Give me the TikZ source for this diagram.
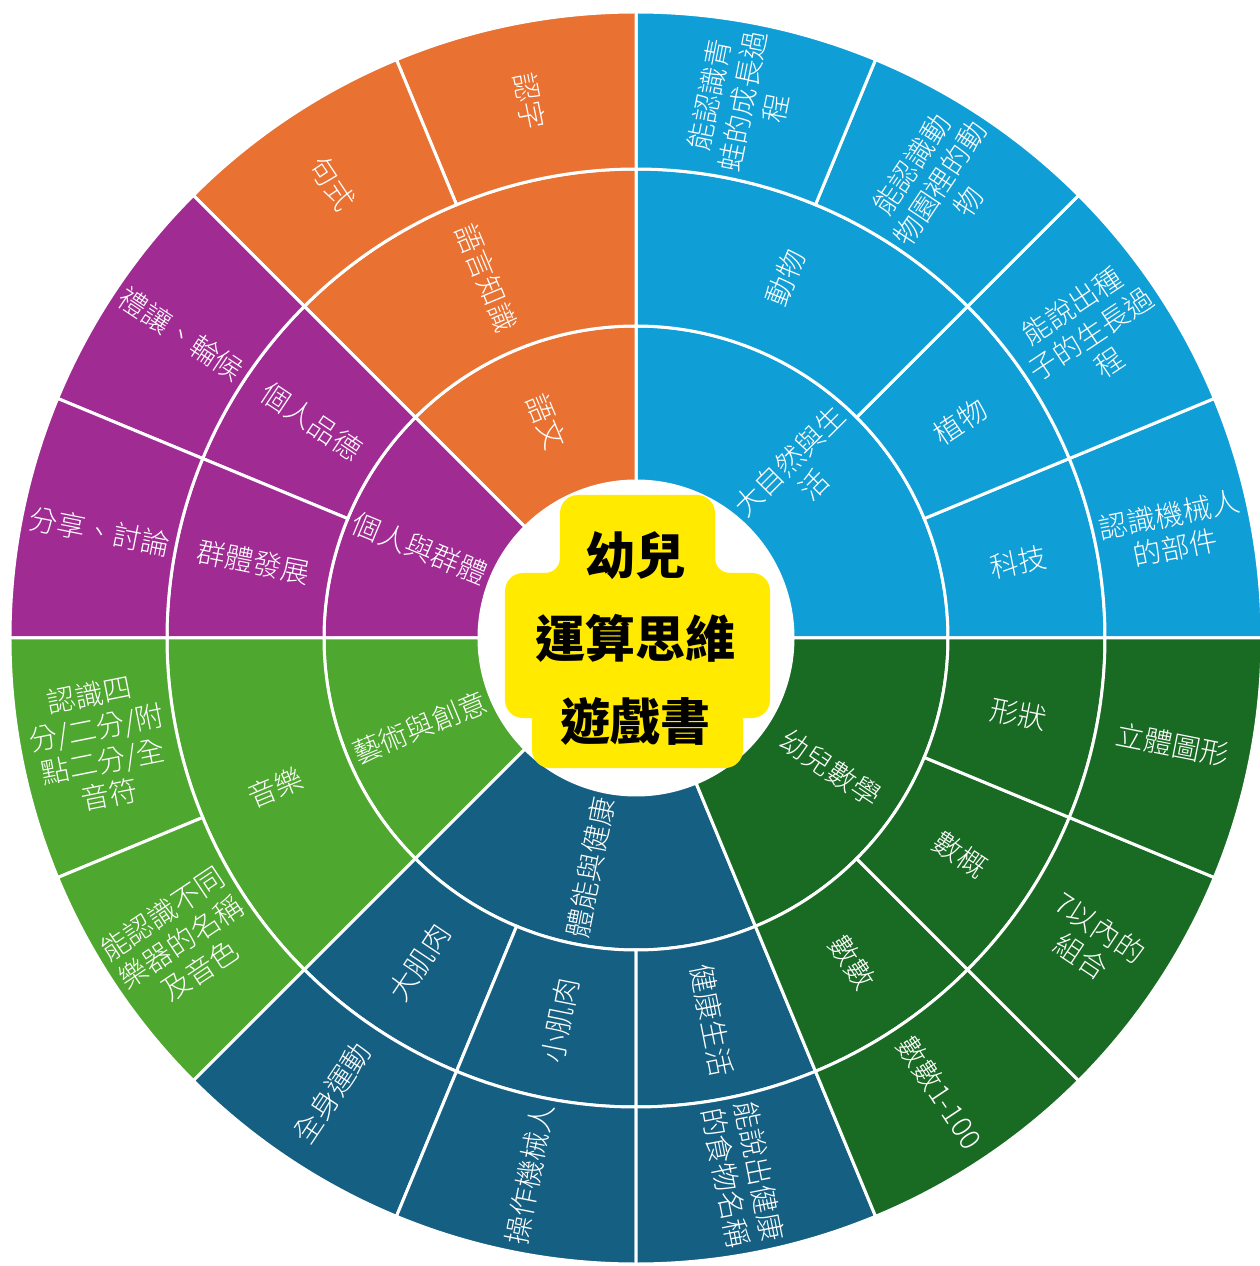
\documentclass[tikz,border=0pt]{standalone}
\usepackage{fontspec}
\newfontfamily\cjk{Noto Sans CJK TC}
\IfFontExistsTF{Noto Sans CJK TC Light}
  {\newfontfamily\cjklight{Noto Sans CJK TC Light}}
  {\newfontfamily\cjklight{Noto Sans CJK TC}}
\definecolor{cblue}{HTML}{0F9ED5}
\definecolor{corange}{HTML}{E97132}
\definecolor{cpurple}{HTML}{A02B93}
\definecolor{clgreen}{HTML}{4EA72E}
\definecolor{cdblue}{HTML}{156082}
\definecolor{cdgreen}{HTML}{196B24}
\definecolor{cyellow}{HTML}{FFEA00}
\tikzset{
  segfill/.style={fill=#1, draw=white, line width=3pt, line join=miter},
  lbl/.style={text=white, font=\cjklight\fontsize{28.5}{34}\selectfont, align=center, inner sep=0pt},
  ctitle/.style={text=black, font=\cjk\bfseries\fontsize{50}{83}\selectfont, align=center, inner sep=0pt},
}
\newcommand\sbsec[5]{%
  \draw[segfill=#5] (#1:#3pt) arc[start angle=#1, end angle=#2, radius=#3pt]
    -- (#2:#4pt) arc[start angle=#2, end angle=#1, radius=#4pt] -- cycle;}
\begin{document}
\begin{tikzpicture}[x=1pt,y=1pt]
\fill[white] (-636,-628) rectangle (623,638);
\useasboundingbox (-636,-628) rectangle (623,638);
% ring 1
\sbsec{0}{90}{157}{312}{cblue}
\sbsec{90}{135}{157}{312}{corange}
\sbsec{135}{180}{157}{312}{cpurple}
\sbsec{180}{225}{157}{312}{clgreen}
\sbsec{225}{292.5}{157}{312}{cdblue}
\sbsec{292.5}{360}{157}{312}{cdgreen}
% ring 2
\sbsec{0}{22.5}{312}{469}{cblue}
\sbsec{22.5}{45}{312}{469}{cblue}
\sbsec{45}{90}{312}{469}{cblue}
\sbsec{90}{135}{312}{469}{corange}
\sbsec{135}{157.5}{312}{469}{cpurple}
\sbsec{157.5}{180}{312}{469}{cpurple}
\sbsec{180}{225}{312}{469}{clgreen}
\sbsec{225}{247.5}{312}{469}{cdblue}
\sbsec{247.5}{270}{312}{469}{cdblue}
\sbsec{270}{292.5}{312}{469}{cdblue}
\sbsec{292.5}{315}{312}{469}{cdgreen}
\sbsec{315}{337.5}{312}{469}{cdgreen}
\sbsec{337.5}{360}{312}{469}{cdgreen}
% ring 3
\sbsec{0}{22.5}{469}{626}{cblue}
\sbsec{22.5}{45}{469}{626}{cblue}
\sbsec{45}{67.5}{469}{626}{cblue}
\sbsec{67.5}{90}{469}{626}{cblue}
\sbsec{90}{112.5}{469}{626}{corange}
\sbsec{112.5}{135}{469}{626}{corange}
\sbsec{135}{157.5}{469}{626}{cpurple}
\sbsec{157.5}{180}{469}{626}{cpurple}
\sbsec{180}{202.5}{469}{626}{clgreen}
\sbsec{202.5}{225}{469}{626}{clgreen}
\sbsec{225}{247.5}{469}{626}{cdblue}
\sbsec{247.5}{270}{469}{626}{cdblue}
\sbsec{270}{292.5}{469}{626}{cdblue}
\sbsec{292.5}{315}{469}{626}{cdgreen}
\sbsec{315}{337.5}{469}{626}{cdgreen}
\sbsec{337.5}{360}{469}{626}{cdgreen}
% centre
\fill[white] (0,0) circle[radius=157pt];
\fill[cyellow, rounded corners=18pt] (-76,40) rectangle (79,143);
\fill[cyellow, rounded corners=18pt] (-131,-80) rectangle (134,65);
\fill[cyellow, rounded corners=18pt] (-104,-130) rectangle (107,-30);
\fill[cyellow] (-91,65) -- (-76,65) -- (-76,80) arc[start angle=0, end angle=-90, radius=15pt] -- cycle;
\fill[cyellow] (79,80) -- (79,65) -- (94,65) arc[start angle=-90, end angle=-180, radius=15pt] -- cycle;
\fill[cyellow] (-113,-55) -- (-104,-55) -- (-104,-64) arc[start angle=0, end angle=90, radius=9pt] -- cycle;
\fill[cyellow] (116,-55) -- (107,-55) -- (107,-64) arc[start angle=180, end angle=90, radius=9pt] -- cycle;
\node[ctitle] (title) at (0,0) {幼兒\\運算思維\\遊戲書};
% ring 1 labels
\node[lbl, rotate=-67.5] (l1a) at (112.5:234pt) {語文};
\node[lbl, rotate=45] (l1b) at (45:234pt) {大自然與生\\活};
\node[lbl, rotate=-22.5] (l1c) at (157.5:234pt) {個人與群體};
\node[lbl, rotate=22.5] (l1d) at (202.5:234pt) {藝術與創意};
\node[lbl, rotate=78.75] (l1e) at (258.75:234pt) {體能與健康};
\node[lbl, rotate=-33.75] (l1f) at (326.25:234pt) {幼兒數學};
% ring 2 labels
\node[lbl, rotate=-67.5] (l2a) at (112.5:390pt) {語言知識};
\node[lbl, rotate=67.5] (l2b) at (67.5:390pt) {動物};
\node[lbl, rotate=33.75] (l2c) at (33.75:390pt) {植物};
\node[lbl, rotate=11.25] (l2d) at (11.25:390pt) {科技};
\node[lbl, rotate=-33.75] (l2e) at (146.25:390pt) {個人品德};
\node[lbl, rotate=-11.25] (l2f) at (168.75:390pt) {群體發展};
\node[lbl, rotate=22.5] (l2g) at (202.5:390pt) {音樂};
\node[lbl, rotate=56.25] (l2h) at (236.25:390pt) {大肌肉};
\node[lbl, rotate=78.75] (l2i) at (258.75:390pt) {小肌肉};
\node[lbl, rotate=-78.75] (l2j) at (281.25:390pt) {健康生活};
\node[lbl, rotate=-56.25] (l2k) at (303.75:390pt) {數數};
\node[lbl, rotate=-33.75] (l2l) at (326.25:390pt) {數概};
\node[lbl, rotate=-11.25] (l2m) at (348.75:390pt) {形狀};
% ring 3 labels
\node[lbl, rotate=-78.75] (l3a) at (101.25:547pt) {認字};
\node[lbl, rotate=-56.25] (l3b) at (123.75:547pt) {句式};
\node[lbl, rotate=78.75] (l3c) at (78.75:547pt) {能認識青\\蛙的成長過\\程};
\node[lbl, rotate=56.25] (l3d) at (56.25:547pt) {能認識動\\物園裡的動\\物};
\node[lbl, rotate=33.75] (l3e) at (33.75:547pt) {能說出種\\子的生長過\\程};
\node[lbl, rotate=11.25] (l3f) at (11.25:547pt) {認識機械人\\的部件};
\node[lbl, rotate=-33.75] (l3g) at (146.25:547pt) {禮讓、輪候};
\node[lbl, rotate=-11.25] (l3h) at (168.75:547pt) {分享、討論};
\node[lbl, rotate=11.25] (l3i) at (191.25:547pt) {認識四\\分/二分/附\\點二分/全\\音符};
\node[lbl, rotate=33.75] (l3j) at (213.75:547pt) {能認識不同\\樂器的名稱\\及音色};
\node[lbl, rotate=56.25] (l3k) at (236.25:547pt) {全身運動};
\node[lbl, rotate=78.75] (l3l) at (258.75:547pt) {操作機械人};
\node[lbl, rotate=-78.75] (l3m) at (281.25:547pt) {能說出健康\\的食物名稱};
\node[lbl, rotate=-56.25] (l3n) at (303.75:547pt) {數數1-100};
\node[lbl, rotate=-33.75] (l3o) at (326.25:547pt) {7以內的\\組合};
\node[lbl, rotate=-11.25] (l3p) at (348.75:547pt) {立體圖形};
\end{tikzpicture}
\end{document}
